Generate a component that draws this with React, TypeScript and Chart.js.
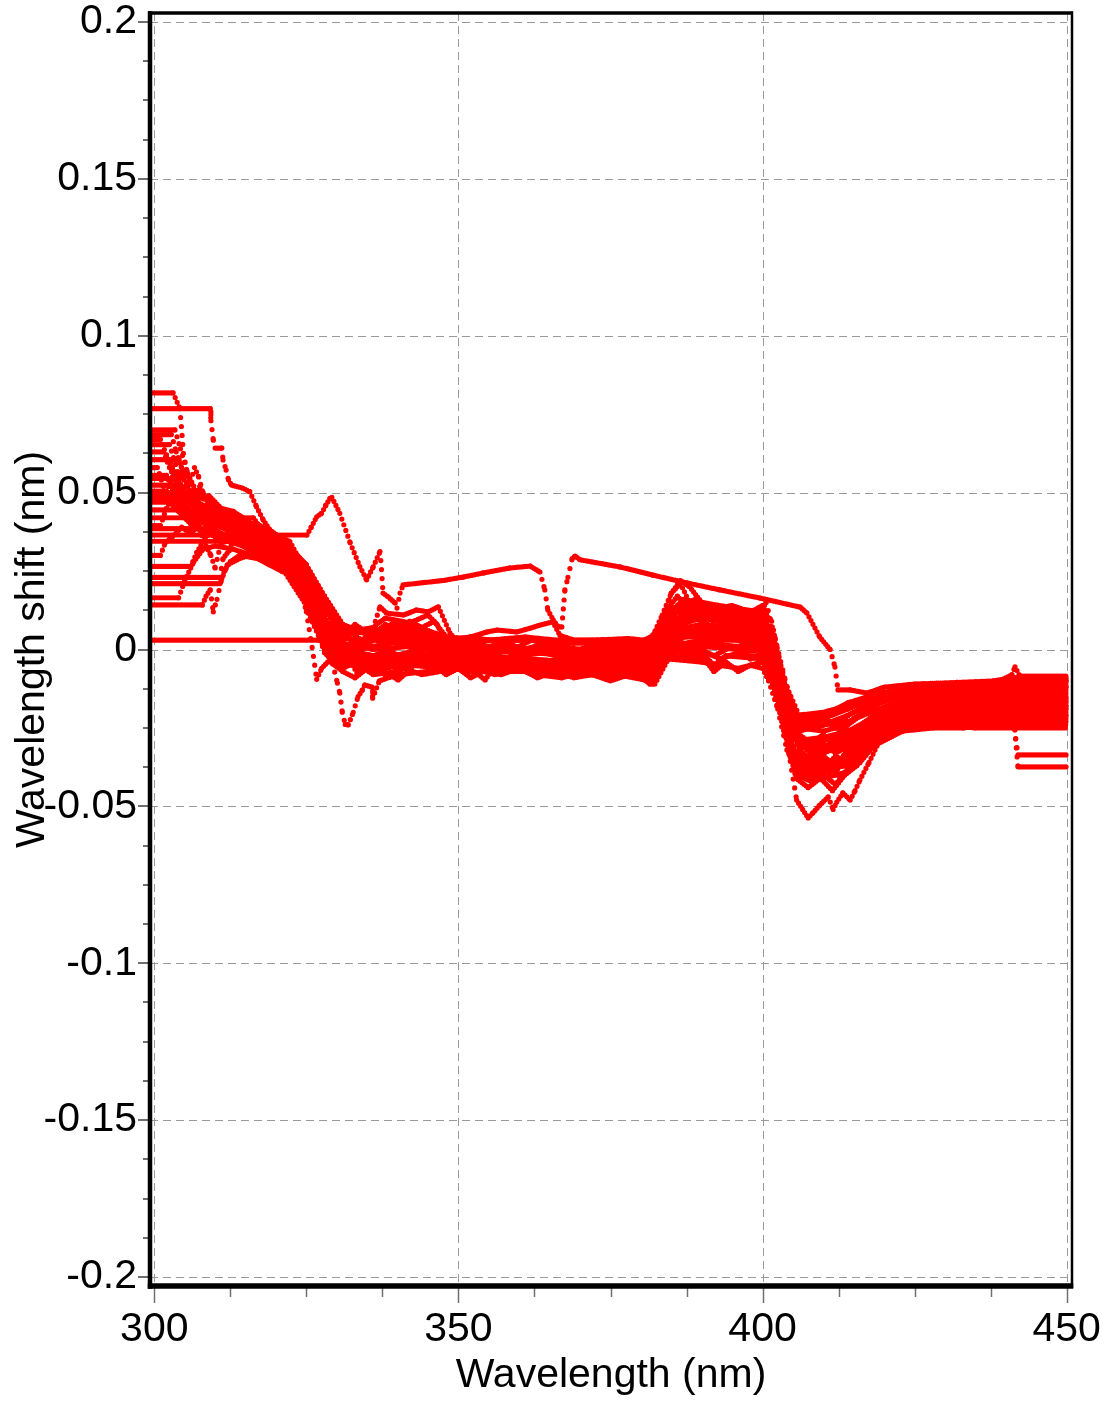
import { useEffect, useRef } from 'react';
import { Chart, registerables } from 'chart.js';

Chart.register(...registerables);

type Pt = [number, number];

// ---- axis ticks ----
const xTickValues = [300, 350, 400, 450];
const xTickLabels = ['300', '350', '400', '450'];
const yTickValues = [-0.2, -0.15, -0.1, -0.05, 0, 0.05, 0.1, 0.15, 0.2];
const yTickLabels = ['-0.2', '-0.15', '-0.1', '-0.05', '0', '0.05', '0.1', '0.15', '0.2'];
const xMinorTicks = [312.5, 325, 337.5, 362.5, 375, 387.5, 412.5, 425, 437.5];
const yMinorTicks = [
  -0.1875, -0.175, -0.1625, -0.1375, -0.125, -0.1125, -0.0875, -0.075, -0.0625,
  -0.0375, -0.025, -0.0125, 0.0125, 0.025, 0.0375, 0.0625, 0.075, 0.0875,
  0.1125, 0.125, 0.1375, 0.1625, 0.175, 0.1875,
];

const X_MIN = 299.29;
const X_MAX = 450.87;
const Y_MIN = -0.20287;
const Y_MAX = 0.20287;

// ---- wavelength shift traces: [wavelength nm, shift nm] ----
const s01: Pt[] = [[299.3,.0818],[303.1,.0818],[304.2,.0768],[304.5,.070],[304.8,.062],[305.5,.056],[306.5,.051],[308,.048],[309,.049],[311,.045],[313,.044],[317,.039],[321,.034],[325,.026],[328,.014],[331,.006],[336,.005],[339,.008],[342,.008],[345,.006],[348,.004],[355,.003],[362,.003],[369,.002],[376,.002],[381.5,.003],[384.5,.012],[390,.013],[396,.012],[400,.012],[402,.003],[404,-.014],[406,-.023],[410,-.022],[414,-.019],[419,-.015],[425,-.013],[432,-.012],[438,-.012],[441,-.009],[450,-.0095]];
const s02: Pt[] = [[299.3,.0768],[309.2,.0768],[309.3,.073],[309.7,.0667],[310,.0642],[311.1,.0642],[311.3,.0604],[311.8,.0572],[312.2,.054],[312.7,.0524],[314.6,.0514],[315.7,.0503],[316.8,.0455],[317.9,.0413],[319,.0381],[320.1,.0365],[322.3,.0344],[323.5,.030],[325,.027],[326.5,.020],[328,.013],[331,.004],[336,.001],[342,.003],[348,.001],[355,-.001],[362,.000],[369,-.002],[376,-.001],[381.5,.001],[384.5,.008],[390,.011],[396,.009],[400,.010],[402,.000],[404,-.018],[406,-.028],[408,-.031],[410,-.029],[414,-.027],[419,-.020],[425,-.016],[432,-.015],[438,-.015],[441,-.013],[450,-.013]];
const s03: Pt[] = [[299.3,.070],[303.4,.070],[304.3,.064],[305.5,.056],[307,.050],[309,.047],[313,.042],[317,.037],[321,.033],[325,.024],[328,.010],[331,.003],[333,.006],[336,.007],[337.1,.0136],[338.2,.0116],[341,.011],[343.1,.0126],[345,.012],[346.7,.0136],[348.6,.0053],[350,.002],[355,.001],[362,.000],[369,-.001],[376,.000],[381.5,.000],[384.5,.011],[387,.016],[390,.014],[396,.011],[400,.013],[400.6,.015],[402,.004],[404,-.012],[406,-.021],[410,-.021],[414,-.017],[419,-.014],[425,-.012],[432,-.011],[438,-.011],[441,-.008],[441.5,-.0055],[442.3,-.0085],[450,-.0085]];
const s04: Pt[] = [[299.3,.0685],[302.8,.0685],[303.6,.063],[304.5,.058],[305.5,.055],[306.5,.048],[307.5,.052],[309,.046],[313,.041],[317,.036],[321,.031],[325,.021],[328,.008],[331,.000],[336,-.002],[342,.002],[348,.000],[355,-.002],[362,-.003],[369,-.004],[376,-.003],[381.5,-.002],[384.5,.006],[390,.008],[396,.007],[400,.008],[402,-.002],[404,-.020],[406,-.030],[408,-.033],[410,-.031],[414,-.028],[419,-.021],[425,-.018],[432,-.017],[438,-.016],[441,-.015],[450,-.015]];
const s05: Pt[] = [[299.3,.0653],[302.5,.0653],[303.5,.059],[304.5,.052],[305.5,.049],[306.5,.046],[309,.044],[313,.040],[317,.036],[321,.032],[325,.025],[328,.013],[331,.005],[334,.001],[336.5,.008],[338,.010],[342,.0085],[345,.011],[346.5,.008],[348,.002],[355,.000],[362,-.001],[369,-.002],[376,-.002],[381.5,-.001],[383,.006],[385,.018],[386.5,.022],[388,.020],[390,.015],[396,.012],[400,.011],[402,.001],[404,-.016],[406,-.025],[410,-.026],[414,-.024],[419,-.017],[425,-.014],[432,-.013],[438,-.013],[441,-.011],[450,-.010]];
const s06: Pt[] = [[299.3,.063],[301.5,.063],[302.5,.058],[303.5,.054],[304.5,.056],[305.5,.050],[307,.045],[309,.042],[313,.039],[317,.034],[321,.030],[325,.019],[328,.006],[331,-.002],[336,-.004],[342,-.001],[348,-.002],[355,-.004],[362,-.005],[369,-.005],[376,-.006],[381.5,-.005],[384.5,.003],[390,.005],[396,.004],[400,.005],[401.5,-.003],[403.5,-.021],[405.5,-.033],[408,-.036],[410,-.034],[412,-.037],[414,-.032],[419,-.024],[425,-.020],[432,-.019],[438,-.018],[441,-.017],[450,-.017]];
const s07: Pt[] = [[299.3,.0605],[304.1,.0605],[304.6,.057],[305.5,.052],[306.5,.047],[308,.044],[309.5,.040],[313,.038],[317,.033],[321,.029],[325,.017],[328,.004],[331,-.003],[334,-.006],[336,-.007],[340,-.004],[342,-.003],[348,-.004],[355,-.005],[362,-.006],[369,-.007],[376,-.007],[381.5,-.008],[384.5,.000],[390,.002],[396,.001],[400,.002],[401.5,-.006],[403.5,-.023],[405.5,-.036],[408,-.039],[410,-.036],[411,-.040],[412,-.036],[414,-.035],[419,-.027],[425,-.022],[432,-.021],[438,-.020],[441,-.019],[450,-.019]];
const s08: Pt[] = [[299.3,.0545],[302.8,.0545],[303.5,.050],[304.5,.045],[305.5,.042],[307,.040],[309,.041],[313,.037],[317,.032],[321,.028],[325,.016],[328,.003],[331,-.004],[336,-.006],[342,-.005],[348,-.006],[355,-.007],[362,-.007],[369,-.008],[376,-.008],[380,-.009],[382,-.011],[384.5,-.002],[390,-.003],[392,-.006],[394,-.002],[400,-.003],[401,-.007],[403.3,-.0215],[404.2,-.031],[405.5,-.040],[408,-.042],[410,-.040],[412,-.043],[414,-.038],[416,-.036],[419,-.029],[425,-.024],[432,-.024],[438,-.023],[441,-.022],[450,-.022]];
const s09: Pt[] = [[299.3,.0524],[303,.0524],[304,.050],[305,.046],[305.8,.052],[306.6,.058],[307.3,.055],[308,.050],[309,.044],[313,.036],[317,.031],[321,.026],[325,.014],[328,.002],[331,.001],[336,.003],[342,.005],[348,.003],[352,.004],[355,.003],[362,.003],[369,.000],[376,.001],[381.5,.002],[384.5,.009],[390,.011],[396,.010],[400,.011],[402,.002],[404,-.017],[406,-.026],[410,-.024],[414,-.023],[419,-.019],[425,-.015],[432,-.015],[438,-.014],[441,-.012],[450,-.012]];
const s10: Pt[] = [[299.3,.050],[306.6,.050],[307.5,.046],[309,.043],[313,.039],[317,.035],[321,.031],[325,.022],[328,.009],[331,.002],[336,.000],[342,.001],[348,-.001],[355,-.003],[362,-.004],[369,-.003],[376,-.004],[381.5,-.004],[384.5,.004],[390,.006],[396,.006],[400,.006],[402,-.004],[404,-.022],[406,-.032],[408,-.035],[410,-.033],[414,-.030],[419,-.023],[425,-.019],[432,-.018],[438,-.017],[441,-.016],[450,-.016]];
const s11: Pt[] = [[299.3,.0485],[309,.0485],[310,.045],[311,.043],[313,.043],[317,.038],[321,.033],[325,.026],[328,.015],[331,.007],[336,.006],[342,.007],[348,.003],[352,.004],[354.7,.0056],[356.4,.0062],[359.6,.0056],[361.8,.0068],[363.4,.0078],[365.5,.0088],[366.7,.0045],[369,.003],[376,.003],[381.5,.002],[384.5,.013],[390,.015],[396,.013],[400,.012],[401.5,.009],[403,-.005],[404,-.012],[405.5,-.021],[410,-.020],[414,-.018],[419,-.016],[425,-.012],[432,-.012],[438,-.011],[441,-.009],[450,-.009]];
const s12: Pt[] = [[299.3,.042],[316.3,.042],[317,.040],[321,.035],[325,.027],[328,.017],[331,.008],[336,.004],[342,.006],[348,.002],[355,.000],[360,.001],[362,.003],[366,.002],[369,-.001],[376,-.001],[381.5,.000],[384.5,.007],[390,.010],[396,.008],[400,.009],[402,-.001],[404,-.019],[406,-.029],[410,-.028],[414,-.026],[419,-.021],[425,-.017],[432,-.016],[438,-.016],[441,-.014],[450,-.014]];
const s13: Pt[] = [[299.3,.0385],[309,.0385],[311,.040],[313,.038],[317,.034],[321,.030],[325,.020],[328,.006],[331,.000],[336,-.002],[342,-.002],[348,-.003],[355,-.004],[362,-.005],[369,-.006],[376,-.005],[381.5,-.006],[384.5,.001],[390,.003],[396,.003],[400,.004],[401,-.004],[401.8,-.012],[403.7,-.019],[404.5,-.030],[405.5,-.036],[408,-.037],[410,-.039],[414,-.036],[419,-.026],[425,-.021],[432,-.020],[438,-.019],[441,-.018],[450,-.018]];
const s14: Pt[] = [[299.3,.0365],[325.1,.0365],[325.8,.039],[326.7,.0423],[327.5,.0434],[328.2,.046],[328.9,.0482],[329.2,.0485],[330.5,.0434],[332.2,.034],[333.8,.0264],[334.9,.0222],[336,.0264],[337.1,.0312],[337.3,.027],[337.6,.018],[338.5,.0167],[339.6,.0148],[339.9,.0132],[340.4,.018],[340.9,.0206],[347.5,.022],[350.8,.0231],[354.1,.0244],[358.5,.026],[361.8,.0266],[363.4,.0247],[364.2,.019],[364.7,.0126],[365.6,.0094],[366.4,.0072],[367,.0072],[367.5,.019],[368,.023],[368.7,.029],[369.2,.0298],[370,.0286],[376.6,.0263],[382,.0237],[387.6,.0212],[393,.019],[399.6,.0164],[406.2,.0135],[407.3,.0116],[409.4,.004],[411.1,.000],[411.9,-.0056],[412.4,-.0129],[414.4,-.0129],[417.2,-.0139],[420,-.012],[425,-.011],[432,-.0105],[438,-.010],[441,-.009],[450,-.010]];
const s15: Pt[] = [[299.3,.0345],[314,.0345],[317,.031],[321,.027],[325,.015],[328,.001],[330,-.003],[331,-.006],[333,-.004],[336,-.008],[340,-.007],[342,-.005],[348,-.005],[355,-.006],[362,-.006],[369,-.007],[376,-.007],[380,-.008],[382.3,-.011],[384.5,-.003],[390,-.001],[392,-.005],[394,-.002],[400,-.002],[401,-.006],[403,-.019],[404.5,-.034],[406,-.038],[410,-.041],[412,-.040],[414,-.039],[419,-.028],[425,-.023],[432,-.023],[438,-.022],[441,-.021],[450,-.021]];
const s16: Pt[] = [[299.3,.023],[310.8,.023],[311.3,.029],[312.3,.0315],[313.5,.039],[315,.037],[317,.033],[321,.029],[325,.018],[328,.005],[331,-.001],[336,-.003],[342,-.001],[348,-.002],[355,-.003],[362,-.004],[369,-.004],[376,-.004],[381.5,-.003],[384.5,.005],[390,.007],[396,.005],[400,.007],[402,-.003],[404,-.021],[406,-.031],[410,-.032],[414,-.029],[419,-.022],[425,-.019],[432,-.018],[438,-.018],[441,-.017],[441.3,-.020],[441.6,-.028],[442,-.0336],[450,-.0336]];
const s17: Pt[] = [[299.3,.021],[310.8,.021],[311.5,.025],[312.5,.028],[314,.030],[317,.029],[321,.025],[324,.024],[325,.013],[328,.000],[331,-.004],[336,-.007],[342,-.004],[348,-.004],[355,-.005],[362,-.005],[369,-.006],[376,-.006],[381.5,-.007],[384.5,.000],[390,.001],[396,.000],[400,.001],[401.5,-.007],[403.5,-.024],[405.5,-.038],[408,-.040],[410,-.038],[414,-.037],[419,-.026],[425,-.022],[432,-.022],[438,-.021],[441,-.020],[441.4,-.024],[441.7,-.031],[442,-.0374],[450,-.0374]];
const s18: Pt[] = [[299.3,.0142],[307.9,.0142],[308.5,.017],[309.2,.019],[309.7,.012],[310.3,.016],[311,.022],[312,.027],[314,.029],[317,.031],[321,.028],[325,.023],[327,.012],[328,.002],[329,-.002],[330.1,-.0107],[330.5,-.0139],[330.9,-.020],[331.4,-.0239],[331.9,-.024],[332.7,-.020],[333.5,-.015],[334.2,-.0129],[334.6,-.0113],[335.8,-.012],[335.9,-.0155],[337,-.010],[340,-.008],[345,-.007],[350,-.006],[355,-.007],[362,-.007],[369,-.008],[376,-.008],[381.5,-.010],[384.5,-.003],[390,-.004],[396,-.006],[400,-.004],[401,-.0065],[403.3,-.0215],[404.5,-.035],[405.6,-.048],[407.5,-.0537],[408.3,-.052],[409.4,-.0496],[410.8,-.047],[411.6,-.051],[412.2,-.0486],[413.2,-.0457],[414.4,-.048],[415.2,-.045],[416,-.0416],[417.5,-.036],[419,-.030],[423,-.026],[428,-.025],[433,-.025],[438,-.024],[441,-.024],[450,-.024]];
const s19: Pt[] = [[299.3,.003],[327,.003],[331,.0035],[336,.003],[342,.004],[348,.002],[355,.003],[361,.004],[366,.003],[372,.003],[378,.0035],[380.5,.003],[382,.0045],[383.5,.011],[385,.018],[386.5,.021],[388,.015],[390,.012],[396,.010],[400,.009],[402,.000],[404,-.015],[406,-.024],[410,-.024],[414,-.021],[419,-.016],[425,-.014],[432,-.014],[438,-.014],[441,-.012],[450,-.012]];
const s20: Pt[] = [[299.3,.030],[301,.030],[301.8,.034],[303,.036],[304.5,.039],[306,.037],[308,.041],[309.5,.037],[311,.034],[313,.035],[317,.030],[321,.026],[323.5,.024],[325,.012],[326,.000],[326.7,-.0095],[327.5,-.006],[329,-.003],[331,-.001],[336,.001],[342,-.003],[348,-.004],[350.3,-.0065],[353,-.0075],[354.4,-.0097],[355.2,-.0075],[357,-.005],[362,-.006],[369,-.007],[376,-.007],[379.5,-.008],[381.5,-.011],[382.5,-.007],[384.5,-.001],[390,.000],[393,-.003],[396,-.001],[400,.000],[401.5,-.009],[403.5,-.026],[405.5,-.039],[408,-.041],[410,-.037],[411,-.040],[412,-.036],[414,-.034],[419,-.025],[425,-.021],[432,-.020],[438,-.020],[441,-.019],[450,-.019]];
const s21: Pt[] = [[299.3,.0445],[305,.0445],[305.6,.041],[306.5,.043],[307.5,.038],[308.5,.033],[309.3,.030],[310,.026],[310.6,.031],[311.5,.036],[313,.037],[317,.033],[321,.030],[325,.021],[328,.007],[331,.001],[333.3,-.0075],[334.9,-.0039],[336.6,-.0065],[339.3,-.0087],[340.1,-.0097],[342,-.0065],[343.1,-.0033],[345,-.002],[348,-.003],[355,-.004],[362,-.004],[369,-.005],[376,-.005],[381.5,-.006],[384.5,.002],[387,.004],[390,.004],[396,.003],[400,.003],[401.5,-.005],[403.5,-.022],[405.5,-.034],[408,-.034],[410,-.031],[414,-.031],[419,-.024],[425,-.020],[432,-.019],[438,-.019],[441,-.018],[450,-.018]];
const s22: Pt[] = [[299.3,.058],[300.5,.058],[301.5,.052],[302.5,.047],[304,.044],[306,.040],[308,.038],[310,.036],[313,.034],[316,.032],[319,.029],[322,.026],[324,.022],[326,.013],[328,.004],[330,.000],[332,-.005],[334,-.003],[337,-.005],[340,-.002],[343,.000],[346,-.003],[349,-.005],[352,-.004],[356,-.006],[360,-.005],[364,-.007],[368,-.006],[372,-.008],[376,-.006],[379,-.007],[381.5,-.009],[383,-.004],[385,.004],[388,.006],[392,.003],[395,.005],[398,.002],[400,.003],[401.5,-.004],[403,-.017],[404.5,-.030],[406,-.035],[408,-.038],[410,-.035],[412,-.039],[414,-.034],[416,-.030],[418,-.027],[421,-.022],[425,-.021],[430,-.020],[435,-.021],[441,-.020],[450,-.020]];
const s23: Pt[] = [[299.3,.047],[304,.047],[305,.044],[307,.042],[309,.039],[312,.041],[315,.036],[318,.033],[321,.029],[323,.027],[325,.018],[327,.009],[329,.002],[331,-.002],[333,.002],[336,.000],[339,.003],[342,.001],[345,.003],[348,.000],[351,-.001],[354,-.002],[357,.000],[360,-.002],[364,-.001],[368,-.003],[372,-.002],[376,-.003],[380,-.002],[382,.000],[384,.006],[386,.010],[389,.012],[392,.009],[395,.010],[398,.008],[400,.009],[401.5,.003],[403,-.010],[404.5,-.022],[406,-.027],[408,-.030],[410,-.027],[412,-.031],[414,-.029],[417,-.024],[420,-.019],[424,-.017],[430,-.016],[436,-.016],[441,-.015],[450,-.0155]];
const s24: Pt[] = [[299.3,.0265],[306,.0265],[307,.031],[308.5,.036],[310,.038],[312,.035],[315,.034],[318,.031],[321,.027],[323,.023],[325,.016],[327,.006],[329,-.004],[331,-.007],[333,-.009],[335,-.006],[338,-.008],[341,-.006],[344,-.008],[347,-.007],[350,-.005],[353,-.006],[356,-.008],[359,-.006],[363,-.008],[367,-.009],[371,-.007],[375,-.009],[378,-.008],[381,-.010],[382.5,-.008],[384,-.001],[386,.003],[389,.000],[392,-.002],[395,.001],[398,-.003],[400,-.001],[401,-.008],[402.5,-.016],[404,-.029],[405.5,-.041],[407.5,-.044],[409.5,-.041],[411.5,-.045],[413.5,-.040],[415.5,-.037],[418,-.031],[421,-.027],[425,-.025],[430,-.024],[435,-.025],[441,-.025],[450,-.025]];
const s25: Pt[] = [[299.3,.067],[301,.067],[302,.062],[303,.058],[304,.054],[305,.050],[307,.047],[309,.045],[312,.040],[315,.038],[318,.035],[321,.032],[323,.029],[325,.022],[327,.014],[329,.007],[331,.004],[333,.008],[336,.004],[339,.006],[342,.003],[345,.005],[348,.001],[351,.002],[354,.000],[357,.002],[360,.000],[364,.001],[368,-.001],[372,.001],[376,.000],[380,.001],[382,.003],[384,.010],[386,.014],[389,.016],[392,.013],[395,.014],[398,.012],[400,.014],[401,.010],[402.5,-.002],[404,-.015],[405.5,-.022],[408,-.024],[410,-.022],[412,-.025],[414,-.021],[417,-.018],[420,-.015],[425,-.013],[431,-.013],[436,-.012],[441,-.010],[450,-.0105]];
const s26: Pt[] = [[299.3,.0165],[304,.0165],[305,.022],[306.5,.028],[308,.032],[310,.033],[313,.032],[316,.030],[319,.027],[322,.024],[324,.020],[326,.010],[328,-.001],[330,-.005],[332,-.003],[335,-.005],[338,-.003],[341,-.004],[344,-.002],[347,-.004],[350,-.003],[353,-.005],[356,-.004],[359,-.005],[363,-.004],[367,-.006],[371,-.005],[375,-.006],[378,-.005],[381,-.007],[382.5,-.004],[384,.003],[386,.007],[389,.005],[392,.002],[395,.004],[398,.001],[400,.002],[401.5,-.005],[403,-.019],[404.5,-.033],[406,-.037],[408,-.035],[410,-.038],[412,-.034],[414,-.036],[416,-.033],[419,-.026],[423,-.023],[428,-.023],[434,-.022],[441,-.023],[450,-.023]];
const s27: Pt[] = [[299.3,.0555],[302,.0555],[303,.051],[304.5,.047],[306,.044],[308,.043],[311,.039],[314,.037],[317,.035],[320,.032],[322,.030],[324,.026],[326,.017],[328,.008],[330,.003],[332,.001],[335,.004],[338,.002],[341,.004],[344,.002],[347,.001],[350,.000],[353,.001],[356,-.001],[359,.001],[363,-.001],[367,.000],[371,-.002],[375,.000],[379,-.001],[382,.001],[384,.008],[386,.012],[389,.010],[392,.007],[395,.009],[398,.006],[400,.008],[401.5,.001],[403,-.013],[404.5,-.026],[406,-.030],[408,-.032],[410,-.030],[412,-.033],[414,-.031],[417,-.026],[420,-.021],[424,-.019],[430,-.018],[436,-.017],[441,-.016],[450,-.0165]];
const s28: Pt[] = [[299.3,.0395],[301,.0395],[302,.045],[303,.049],[304,.046],[305.5,.043],[307,.046],[308.5,.040],[311,.037],[314,.035],[317,.032],[320,.030],[323,.026],[325,.019],[327,.010],[329,.001],[331,-.003],[332.5,.000],[334,-.004],[336,-.002],[338,-.006],[340,-.003],[342,-.005],[344,-.002],[346,-.005],[348,-.008],[350,-.006],[352,-.009],[354,-.007],[357,-.008],[360,-.006],[363,-.009],[366,-.007],[369,-.009],[372,-.008],[375,-.010],[378,-.008],[381,-.009],[382.5,-.006],[384,.002],[386,.000],[388,-.003],[390,-.002],[392,-.007],[394,-.004],[396,-.007],[398,-.005],[400,-.006],[401,-.010],[402.5,-.019],[404,-.032],[405.5,-.038],[407,-.036],[409,-.040],[411,-.037],[413,-.041],[415,-.035],[417,-.031],[420,-.025],[424,-.024],[429,-.022],[434,-.023],[438,-.022],[441,-.021],[450,-.021]];
const s29: Pt[] = [[299.3,.0505],[302,.0505],[303,.055],[304,.052],[305,.048],[306.5,.045],[308,.046],[310,.041],[313,.039],[316,.036],[319,.033],[322,.029],[324,.025],[326,.015],[328,.007],[330,.004],[332,.006],[334,.003],[336,.005],[338,.008],[340,.006],[342,.009],[344,.007],[346,.009],[348,.004],[350,.001],[352,.002],[355,.001],[358,.002],[361,.000],[364,.002],[367,.001],[370,.000],[373,.002],[376,.001],[379,.000],[381,.002],[382.5,.006],[384,.012],[386,.017],[388,.013],[390,.011],[392,.013],[394,.010],[396,.012],[398,.010],[400,.011],[401.2,.006],[402.5,-.004],[404,-.014],[405.5,-.023],[407,-.022],[409,-.025],[411,-.023],[413,-.026],[415,-.022],[418,-.018],[421,-.016],[425,-.014],[430,-.014],[435,-.013],[441,-.0115],[450,-.0115]];

const traces: Pt[][] = [
  s01, s02, s03, s04, s05, s06, s07, s08, s09, s10, s11, s12, s13, s14, s15,
  s16, s17, s18, s19, s20, s21, s22, s23, s24, s25, s26, s27, s28, s29,
];

const FONT = '"Liberation Sans", Arial, Helvetica, sans-serif';
const TRACE_COLOR = '#ff0000';
const GRID_COLOR = '#9a9a9a';
const TICK_COLOR = '#707070';
const DOT_STEP = 2.0;

function labelFor(v: number, values: number[], labels: string[]): string {
  const i = values.findIndex((t) => Math.abs(t - v) < 1e-9);
  return i >= 0 ? labels[i] : '';
}

// Dots spaced at a fixed horizontal step, so steep runs look dotted.
function dotDash(ctx: any): number[] {
  const dx = Math.abs(ctx.p1.x - ctx.p0.x);
  const dy = Math.abs(ctx.p1.y - ctx.p0.y);
  const len = Math.hypot(dx, dy);
  const gap = dx < 0.01 ? 9 : Math.min(9, Math.max(DOT_STEP, (DOT_STEP * len) / dx));
  return [0, gap];
}

function stroke(ctx: CanvasRenderingContext2D, x1: number, y1: number, x2: number, y2: number) {
  ctx.beginPath();
  ctx.moveTo(x1, y1);
  ctx.lineTo(x2, y2);
  ctx.stroke();
}

const axesFrame = {
  id: 'axesFrame',
  beforeDatasetsDraw(chart: any) {
    const { ctx, chartArea: a, scales } = chart;
    const xs = scales.x;
    const ys = scales.y;
    const xEnd = xs.getPixelForValue(xTickValues[xTickValues.length - 1]) + 0.5;
    ctx.save();
    ctx.strokeStyle = GRID_COLOR;
    ctx.lineWidth = 1;
    ctx.setLineDash([8, 5]);
    for (const v of xTickValues) {
      const p = Math.round(xs.getPixelForValue(v)) + 0.5;
      stroke(ctx, p, a.top, p, a.bottom);
    }
    for (const v of yTickValues) {
      const p = Math.round(ys.getPixelForValue(v)) + 0.5;
      stroke(ctx, a.left, p, xEnd, p);
    }
    ctx.restore();
  },
  afterDatasetsDraw(chart: any) {
    const { ctx, chartArea: a, scales } = chart;
    const xs = scales.x;
    const ys = scales.y;
    ctx.save();
    ctx.setLineDash([]);
    ctx.strokeStyle = TICK_COLOR;
    ctx.lineWidth = 2;
    for (const v of yTickValues) {
      const p = Math.round(ys.getPixelForValue(v));
      stroke(ctx, a.left - 12, p, a.left - 2, p);
    }
    for (const v of yMinorTicks) {
      const p = Math.round(ys.getPixelForValue(v));
      stroke(ctx, a.left - 7, p, a.left - 2, p);
    }
    ctx.lineWidth = 1.5;
    for (const v of xTickValues) {
      const p = Math.round(xs.getPixelForValue(v)) + 0.5;
      stroke(ctx, p, a.bottom + 2, p, a.bottom + 17);
    }
    for (const v of xMinorTicks) {
      const p = Math.round(xs.getPixelForValue(v)) + 0.5;
      stroke(ctx, p, a.bottom + 2, p, a.bottom + 11);
    }
    // plot frame: heavy left/bottom axes, lighter top/right edges
    ctx.strokeStyle = '#000';
    ctx.lineCap = 'butt';
    ctx.lineWidth = 3.5;
    stroke(ctx, a.left - 2, a.top, a.right + 1, a.top);
    ctx.lineWidth = 2.5;
    stroke(ctx, a.right, a.top - 1.5, a.right, a.bottom + 2);
    ctx.lineWidth = 4.5;
    stroke(ctx, a.left, a.top - 1.75, a.left, a.bottom + 2.75);
    ctx.lineWidth = 5.5;
    stroke(ctx, a.left - 2.25, a.bottom, a.right + 1.25, a.bottom);
    ctx.restore();
  },
};

export default function App() {
  const canvasRef = useRef<HTMLCanvasElement>(null);

  useEffect(() => {
    const canvas = canvasRef.current;
    if (!canvas) return;

    const datasets = traces.map((t, i) => ({
      label: `trace ${i + 1}`,
      data: t.map(([x, y]) => ({ x, y })),
      borderColor: TRACE_COLOR,
      backgroundColor: TRACE_COLOR,
      borderWidth: 5.2,
      borderCapStyle: 'round' as const,
      borderJoinStyle: 'round' as const,
      pointRadius: 0,
      tension: 0,
      fill: false,
      segment: { borderDash: dotDash },
    }));

    const chart = new Chart(canvas, {
      type: 'line',
      data: { datasets },
      plugins: [axesFrame],
      options: {
        responsive: false,
        animation: false,
        devicePixelRatio: 1,
        events: [],
        layout: { padding: { top: 13, right: 37, left: 0, bottom: 0 } },
        plugins: { legend: { display: false }, tooltip: { enabled: false } },
        scales: {
          x: {
            type: 'linear',
            min: X_MIN,
            max: X_MAX,
            bounds: 'data',
            grid: { display: false, drawTicks: false },
            border: { display: false },
            afterBuildTicks: (s: any) => {
              s.ticks = xTickValues.map((v) => ({ value: v }));
            },
            afterFit: (s: any) => {
              s.height = 115;
              s.paddingLeft = 0;
              s.paddingRight = 0;
            },
            ticks: {
              autoSkip: false,
              maxRotation: 0,
              minRotation: 0,
              padding: 19,
              color: '#000',
              font: { family: FONT, size: 41 },
              callback: (v: any) => labelFor(Number(v), xTickValues, xTickLabels),
            },
            title: {
              display: true,
              text: 'Wavelength (nm)',
              color: '#000',
              font: { family: FONT, size: 41 },
              padding: { top: 0, bottom: 1 },
            },
          },
          y: {
            type: 'linear',
            min: Y_MIN,
            max: Y_MAX,
            bounds: 'data',
            grid: { display: false, drawTicks: false },
            border: { display: false },
            afterBuildTicks: (s: any) => {
              s.ticks = yTickValues.map((v) => ({ value: v }));
            },
            afterFit: (s: any) => {
              s.width = 150;
              s.paddingTop = 0;
              s.paddingBottom = 0;
            },
            ticks: {
              autoSkip: false,
              padding: 13,
              color: '#000',
              font: { family: FONT, size: 41 },
              callback: (v: any) => labelFor(Number(v), yTickValues, yTickLabels),
            },
            title: {
              display: true,
              text: 'Wavelength shift (nm)',
              color: '#000',
              font: { family: FONT, size: 41 },
              padding: { top: 8, bottom: 0 },
            },
          },
        },
      } as any,
    });

    return () => chart.destroy();
  }, []);

  return (
    <canvas
      ref={canvasRef}
      width={1109}
      height={1401}
      style={{ position: 'absolute', left: 0, top: 0, width: 1109, height: 1401 }}
    />
  );
}
